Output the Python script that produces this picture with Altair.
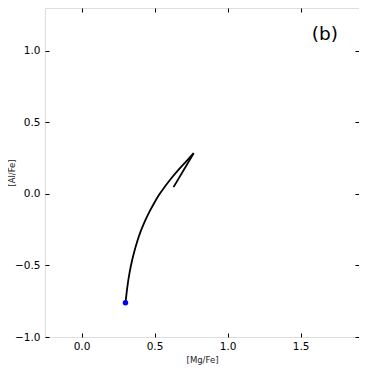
import altair as alt
import pandas as pd

# Main track in [Mg/Fe] vs [Al/Fe] (from the starting point up to the tip)
main_mg = [0.301, 0.309, 0.318, 0.330, 0.345, 0.362, 0.382, 0.405, 0.432, 0.462, 0.495,
           0.530, 0.570, 0.615, 0.665, 0.717, 0.768]
main_al = [-0.761, -0.690, -0.620, -0.545, -0.470, -0.400, -0.330, -0.262, -0.195, -0.130, -0.068,
           -0.008, 0.050, 0.110, 0.170, 0.228, 0.285]
# Return branch (from the tip back down)
back_mg = [0.768, 0.630]
back_al = [0.285, 0.048]

# starting point
start_mg = [0.301]
start_al = [-0.761]

# panel label
label_x = [1.666]
label_y = [1.12]
label_text = ["(b)"]

x_ticks = [0.0, 0.5, 1.0, 1.5]
y_ticks = [-1.0, -0.5, 0.0, 0.5, 1.0]
x_domain = [-0.25, 1.9]
y_domain = [-1.0, 1.3]

track = pd.DataFrame({
    "mg": main_mg + back_mg,
    "al": main_al + back_al,
    "seg": ["main"] * len(main_mg) + ["back"] * len(back_mg),
    "i": list(range(len(main_mg) + len(back_mg))),
})
start = pd.DataFrame({"mg": start_mg, "al": start_al})
label = pd.DataFrame({"mg": label_x, "al": label_y, "t": label_text})

xs = alt.Scale(domain=x_domain, nice=False, zero=False)
ys = alt.Scale(domain=y_domain, nice=False, zero=False)

font = "DejaVu Sans"

x_axis_bottom = alt.Axis(values=x_ticks, format=".1f", orient="bottom", offset=-4, tickSize=4,
                         labelPadding=4, domain=False, grid=False, title="[Mg/Fe]",
                         titleFontSize=8.5, titleFontWeight="normal", titlePadding=4,
                         labelFontSize=10.5, labelColor="black", tickColor="black",
                         labelFont=font, titleFont=font, titleColor="#222")
y_axis_left = alt.Axis(values=y_ticks, format=".1f", orient="left", offset=-4, tickSize=4,
                       labelPadding=5, domain=False, grid=False, title="[Al/Fe]",
                       titleFontSize=8.5, titleFontWeight="normal", titleX=-33,
                       labelFontSize=10.5, labelColor="black", tickColor="black",
                       labelFont=font, titleFont=font, titleColor="#222")
x_axis_top = alt.Axis(values=x_ticks, orient="top", offset=-4, tickSize=4, labels=False,
                      domain=False, grid=False, title=None, tickColor="black")
y_axis_right = alt.Axis(values=y_ticks, orient="right", offset=-4, tickSize=4, labels=False,
                        domain=False, grid=False, title=None, tickColor="black")

line = alt.Chart(track).mark_line(color="black", strokeWidth=1.8, interpolate="monotone").encode(
    x=alt.X("mg:Q", scale=xs, axis=x_axis_bottom),
    y=alt.Y("al:Q", scale=ys, axis=y_axis_left),
    detail="seg:N",
    order="i:Q",
)

pt = alt.Chart(start).mark_point(filled=True, color="#0000ff", size=30, opacity=1).encode(
    x=alt.X("mg:Q", scale=xs, axis=x_axis_top),
    y=alt.Y("al:Q", scale=ys, axis=y_axis_right),
)

txt = alt.Chart(label).mark_text(fontSize=18.5, font=font, color="black", align="center",
                                 baseline="middle").encode(
    x=alt.X("mg:Q", scale=xs, axis=None),
    y=alt.Y("al:Q", scale=ys, axis=None),
    text="t:N",
)

chart = alt.layer(line, pt, txt).resolve_axis(x="independent", y="independent").properties(
    width=314, height=329,
    autosize=alt.AutoSizeParams(type="none"),
    padding={"left": 37, "top": 0, "right": 0, "bottom": 30},
).configure_view(stroke="black", strokeWidth=1.3).configure(background="white")

chart.save("out.html", embed_options={"renderer": "svg", "actions": False})
